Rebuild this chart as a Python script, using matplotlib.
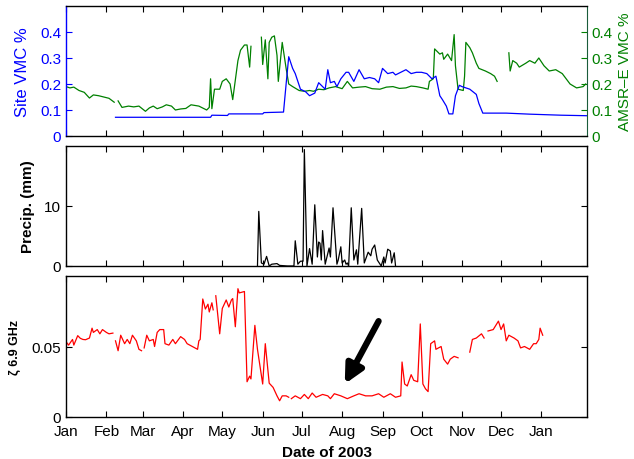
import numpy as np
import matplotlib
matplotlib.use("Agg")
import matplotlib.pyplot as plt

plt.rcParams['font.family'] = ['Liberation Sans', 'DejaVu Sans']

nan = np.nan
BASE = np.datetime64('2003-01-01')

# ---- AMSR-E VMC (green), day offset from 2003-01-01
amsr_day = [0, 3, 6, 10, 14, 18, 21, 25, 29, 33, 37, 38,
            40, 43, 48, 52, 56, 61, 64, 67, 70, 74, 77, 81, 84, 88, 92, 96, 102, 108, 110,
            111, 112, 114, 118, 120, 123, 126, 128, 132, 134, 137, 139, 141, 142, 146,
            150, 151, 153, 155, 156, 158, 160, 162, 163, 166, 169, 171, 174, 179, 183, 187,
            190, 194, 198, 202, 207, 212, 216, 220, 225, 230, 235, 241, 246, 251, 256, 261,
            265, 269, 274, 278, 279, 282, 283, 287, 289, 290, 293, 296, 298, 299, 301, 305,
            306, 307, 310, 312, 315, 317, 322, 326, 329, 331, 335,
            340, 341, 343, 346, 348, 353, 356, 360, 363, 367, 371, 376, 381, 387, 392, 397, 399]
amsr_val = [0.19, 0.185, 0.188, 0.175, 0.168, 0.146, 0.158, 0.155, 0.150, 0.145, 0.130, nan,
            0.135, 0.110, 0.115, 0.112, 0.115, 0.095, 0.108, 0.115, 0.105, 0.112, 0.120, 0.115, 0.100, 0.104, 0.106, 0.120, 0.115, 0.100, 0.110,
            0.220, 0.105, 0.180, 0.180, 0.210, 0.220, 0.200, 0.140, 0.290, 0.330, 0.350, 0.350, 0.265, 0.345, nan,
            0.380, 0.275, 0.370, 0.220, 0.360, 0.380, 0.385, 0.310, 0.210, 0.360, 0.260, 0.200, 0.190, 0.175, 0.172, 0.175,
            0.172, 0.180, 0.178, 0.185, 0.190, 0.182, 0.210, 0.185, 0.188, 0.190, 0.182, 0.180, 0.188, 0.190, 0.183, 0.185,
            0.192, 0.190, 0.185, 0.180, 0.210, 0.220, 0.335, 0.315, 0.320, 0.295, 0.315, 0.290, 0.390, 0.270, 0.180, 0.175,
            0.230, 0.360, 0.340, 0.320, 0.280, 0.260, 0.250, 0.240, 0.230, 0.210, nan,
            0.320, 0.250, 0.290, 0.280, 0.265, 0.280, 0.290, 0.280, 0.300, 0.270, 0.250, 0.255, 0.240, 0.200, 0.185, 0.190, 0.200]

# ---- Site VMC (blue)
site_day = [38, 111, 112, 124, 125, 151, 152, 167, 169, 171, 174, 176, 180, 184, 187, 191,
            194, 197, 199, 201, 203, 206, 208, 211, 215, 217, 221, 225, 229, 233, 237, 240,
            243, 247, 251, 253, 257, 261, 265, 269, 273, 277, 281, 284, 287, 289, 292, 294,
            297, 299, 302, 304, 310, 315, 317, 320, 338, 356, 380, 400]
site_val = [0.072, 0.072, 0.080, 0.079, 0.085, 0.085, 0.090, 0.092, 0.200, 0.305, 0.260, 0.240,
            0.180, 0.170, 0.155, 0.165, 0.205, 0.190, 0.180, 0.255, 0.205, 0.210, 0.190, 0.220,
            0.245, 0.245, 0.210, 0.255, 0.220, 0.225, 0.220, 0.205, 0.260, 0.240, 0.245, 0.235,
            0.245, 0.255, 0.240, 0.245, 0.245, 0.240, 0.220, 0.230, 0.155, 0.140, 0.115, 0.085,
            0.085, 0.155, 0.195, 0.190, 0.180, 0.160, 0.125, 0.088, 0.088, 0.084, 0.080, 0.078]

# ---- Precipitation (mm)
rain_day = [147, 148, 150, 152, 154, 156, 158, 162, 164, 170, 175, 176, 178, 180, 182, 183,
            185, 187, 189, 191, 193, 194, 195, 196, 197, 199, 202, 203, 205, 208, 209, 211,
            212, 214, 215, 216, 217, 219, 221, 223, 224, 227, 229, 232, 234, 235, 237, 239,
            242, 244, 245, 247, 249, 250, 252, 253]
rain_val = [0.0, 9.1, 0.5, 0.3, 1.6, 0.0, 0.3, 0.4, 0.1, 0.0, 0.0, 4.2, 0.3, 0.8, 0.8, 19.4,
            0.0, 2.9, 0.3, 10.2, 1.5, 4.0, 3.8, 1.0, 5.9, 0.3, 3.0, 1.5, 9.7, 0.3, 1.0, 3.2,
            0.5, 1.0, 0.3, 0.5, 0.0, 9.7, 1.0, 2.7, 0.3, 9.6, 0.5, 2.3, 1.7, 2.8, 3.5, 1.0,
            0.0, 1.5, 0.5, 2.8, 2.5, 0.5, 2.2, 0.0]

# ---- zeta 6.9 GHz (red)
zeta_day = [0, 2, 5, 6, 9, 11, 13, 15, 18, 20, 21, 24, 26, 28, 31, 33, 36, 37,
            38, 40, 42, 45, 47, 49, 51, 54, 56, 58, 59,
            60, 62, 64, 67, 68, 70, 72, 75, 76, 79, 82, 84, 88, 91, 93, 97, 101, 102, 103,
            105, 107, 109, 110, 112, 113, 114,
            115, 118, 120, 123, 125, 127, 128, 130, 132, 133, 137, 139, 141, 142, 145, 147,
            151, 153, 156, 159, 162, 164, 166, 169, 171, 172,
            173, 176, 180, 183, 186, 189, 192, 197, 201, 203, 206, 211, 216, 221, 225, 230,
            235, 240, 244, 249, 253, 257, 258, 260, 262, 265, 267, 270, 272, 274, 276, 278,
            280, 283, 284, 288, 290, 293, 295, 298, 301, 305,
            310, 312, 315, 319, 321, 322,
            324, 328, 330, 332, 334, 336, 338, 340, 344, 347, 349, 352, 356, 359, 361, 363, 364, 366]
zeta_val = [0.0534, 0.051, 0.055, 0.051, 0.0577, 0.0558, 0.055, 0.0548, 0.056, 0.063, 0.060, 0.062, 0.059, 0.062, 0.060, 0.059, 0.0595, nan,
            0.054, 0.047, 0.058, 0.052, 0.055, 0.052, 0.058, 0.054, 0.048, 0.047, nan,
            0.049, 0.058, 0.054, 0.055, 0.050, 0.060, 0.062, 0.062, 0.052, 0.051, 0.055, 0.052, 0.057, 0.055, 0.052, 0.050, 0.048, 0.054, 0.055,
            0.0837, 0.0766, 0.080, 0.0745, 0.081, 0.076, nan,
            0.086, 0.059, 0.077, 0.083, 0.078, 0.083, 0.084, 0.064, 0.091, 0.088, 0.089, 0.025, 0.029, 0.027, 0.065, 0.048,
            0.0234, 0.052, 0.024, 0.021, 0.015, 0.0115, 0.015, 0.015, 0.014, nan,
            0.013, 0.015, 0.013, 0.016, 0.013, 0.017, 0.014, 0.016, 0.015, 0.013, 0.0165, 0.015, 0.013, 0.015, 0.0165, 0.015,
            0.015, 0.0165, 0.014, 0.0165, 0.014, 0.015, 0.039, 0.0234, 0.022, 0.030, 0.026, 0.025, 0.066, 0.0234, 0.020, 0.018,
            0.052, 0.054, 0.048, 0.050, 0.041, 0.0375, 0.041, 0.043, 0.042, nan,
            0.046, 0.055, 0.056, 0.059, 0.056, nan,
            0.061, 0.062, 0.065, 0.068, 0.062, 0.066, 0.054, 0.058, 0.056, 0.054, 0.049, 0.050, 0.048, 0.052, 0.052, 0.055, 0.063, 0.058]

month_labels = ['Jan', 'Feb', 'Mar', 'Apr', 'May', 'Jun', 'Jul', 'Aug', 'Sep', 'Oct', 'Nov', 'Dec', 'Jan']

# arrow annotation (day, value)
arrow_tip = (214, 0.0234)
arrow_tail = (240, 0.068)


def to_dates(days):
    return BASE + np.array(days).astype('timedelta64[D]')


BLUE = '#0000ff'
GREEN = '#008000'
RED = '#ff0000'
FS = 11

fig = plt.figure(figsize=(6.34, 4.6), dpi=100)
L, W = 66 / 634, 521 / 634
ax1 = fig.add_axes([L, 1 - 137 / 460, W, 130 / 460])
ax2 = fig.add_axes([L, 1 - 267 / 460, W, 120 / 460])
ax3 = fig.add_axes([L, 1 - 418 / 460, W, 141 / 460])

xmin = BASE
xmax = BASE + np.timedelta64(400, 'D')
ticks = [np.datetime64('2003-%02d-01' % m) for m in range(1, 13)] + [np.datetime64('2004-01-01')]

for ax in (ax1, ax2, ax3):
    ax.set_xlim(xmin, xmax)
    ax.set_xticks(ticks)
    ax.tick_params(direction='in', length=4, width=0.8, top=True, labelsize=FS)
    for s in ax.spines.values():
        s.set_linewidth(1.0)

# top panel
ax1.plot(to_dates(site_day), site_val, color=BLUE, lw=0.9)
ax1.set_ylim(0, 0.5)
ax1.set_yticks([0, 0.1, 0.2, 0.3, 0.4])
ax1.set_yticklabels(['0', '0.1', '0.2', '0.3', '0.4'])
ax1.tick_params(axis='y', colors=BLUE, labelsize=FS, right=False)
ax1.set_xticklabels([])
ax1.set_ylabel('Site VMC %', color=BLUE, fontsize=FS + 1, ha='center', va='center')
ax1.spines['left'].set_color(BLUE)
ax1.spines['right'].set_visible(False)

ax1r = ax1.twinx()
ax1r.plot(to_dates(amsr_day), amsr_val, color=GREEN, lw=0.9)
ax1r.set_ylim(0, 0.5)
ax1r.set_xlim(xmin, xmax)
ax1r.set_yticks([0, 0.1, 0.2, 0.3, 0.4])
ax1r.set_yticklabels(['0', '0.1', '0.2', '0.3', '0.4'])
ax1r.tick_params(axis='y', direction='in', length=4, colors=GREEN, labelsize=FS)
ax1r.set_ylabel('AMSR\u2013E VMC %', color=GREEN, fontsize=FS, ha='center', va='center')
ax1r.spines['right'].set_color('#1a5c3a')
ax1r.spines['left'].set_visible(False)
ax1r.spines['top'].set_visible(False)
ax1r.spines['bottom'].set_visible(False)
ax1.set_zorder(ax1r.get_zorder() + 1)
ax1.patch.set_visible(False)

# middle panel
ax2.plot(to_dates(rain_day), rain_val, color='black', lw=0.9)
ax2.set_ylim(0, 20)
ax2.set_yticks([0, 10])
ax2.tick_params(axis='y', right=True)
ax2.set_xticklabels([])
ax2.set_ylabel('Precip. (mm)', fontsize=FS, fontweight='bold', ha='center', va='center')

# bottom panel
ax3.plot(to_dates(zeta_day), zeta_val, color=RED, lw=0.9)
ax3.set_ylim(0, 0.1)
ax3.set_yticks([0, 0.05])
ax3.set_yticklabels(['0', '0.05'])
ax3.tick_params(axis='y', right=True)
ax3.set_xticklabels(month_labels)
ax3.tick_params(axis='x', pad=5)
ax3.set_ylabel('\u03b6 6.9 GHz', fontsize=9, fontweight='bold', ha='center', va='center')
ax3.set_xlabel('Date of 2003', fontsize=FS, fontweight='bold', labelpad=5)

ax3.annotate('', xy=(BASE + np.timedelta64(arrow_tip[0], 'D'), arrow_tip[1]),
             xytext=(BASE + np.timedelta64(arrow_tail[0], 'D'), arrow_tail[1]),
             arrowprops=dict(arrowstyle='-|>,head_length=1.1,head_width=0.55',
                             color='black', lw=4.5, shrinkA=0, shrinkB=0))

ax1.yaxis.set_label_coords((23 - 66) / 521, 0.5)
ax2.yaxis.set_label_coords((28 - 66) / 521, 0.5)
ax3.yaxis.set_label_coords((15 - 66) / 521, 0.5)
ax1r.yaxis.set_label_coords((625 - 66) / 521, 0.5)

fig.savefig('out.png', dpi=100)
